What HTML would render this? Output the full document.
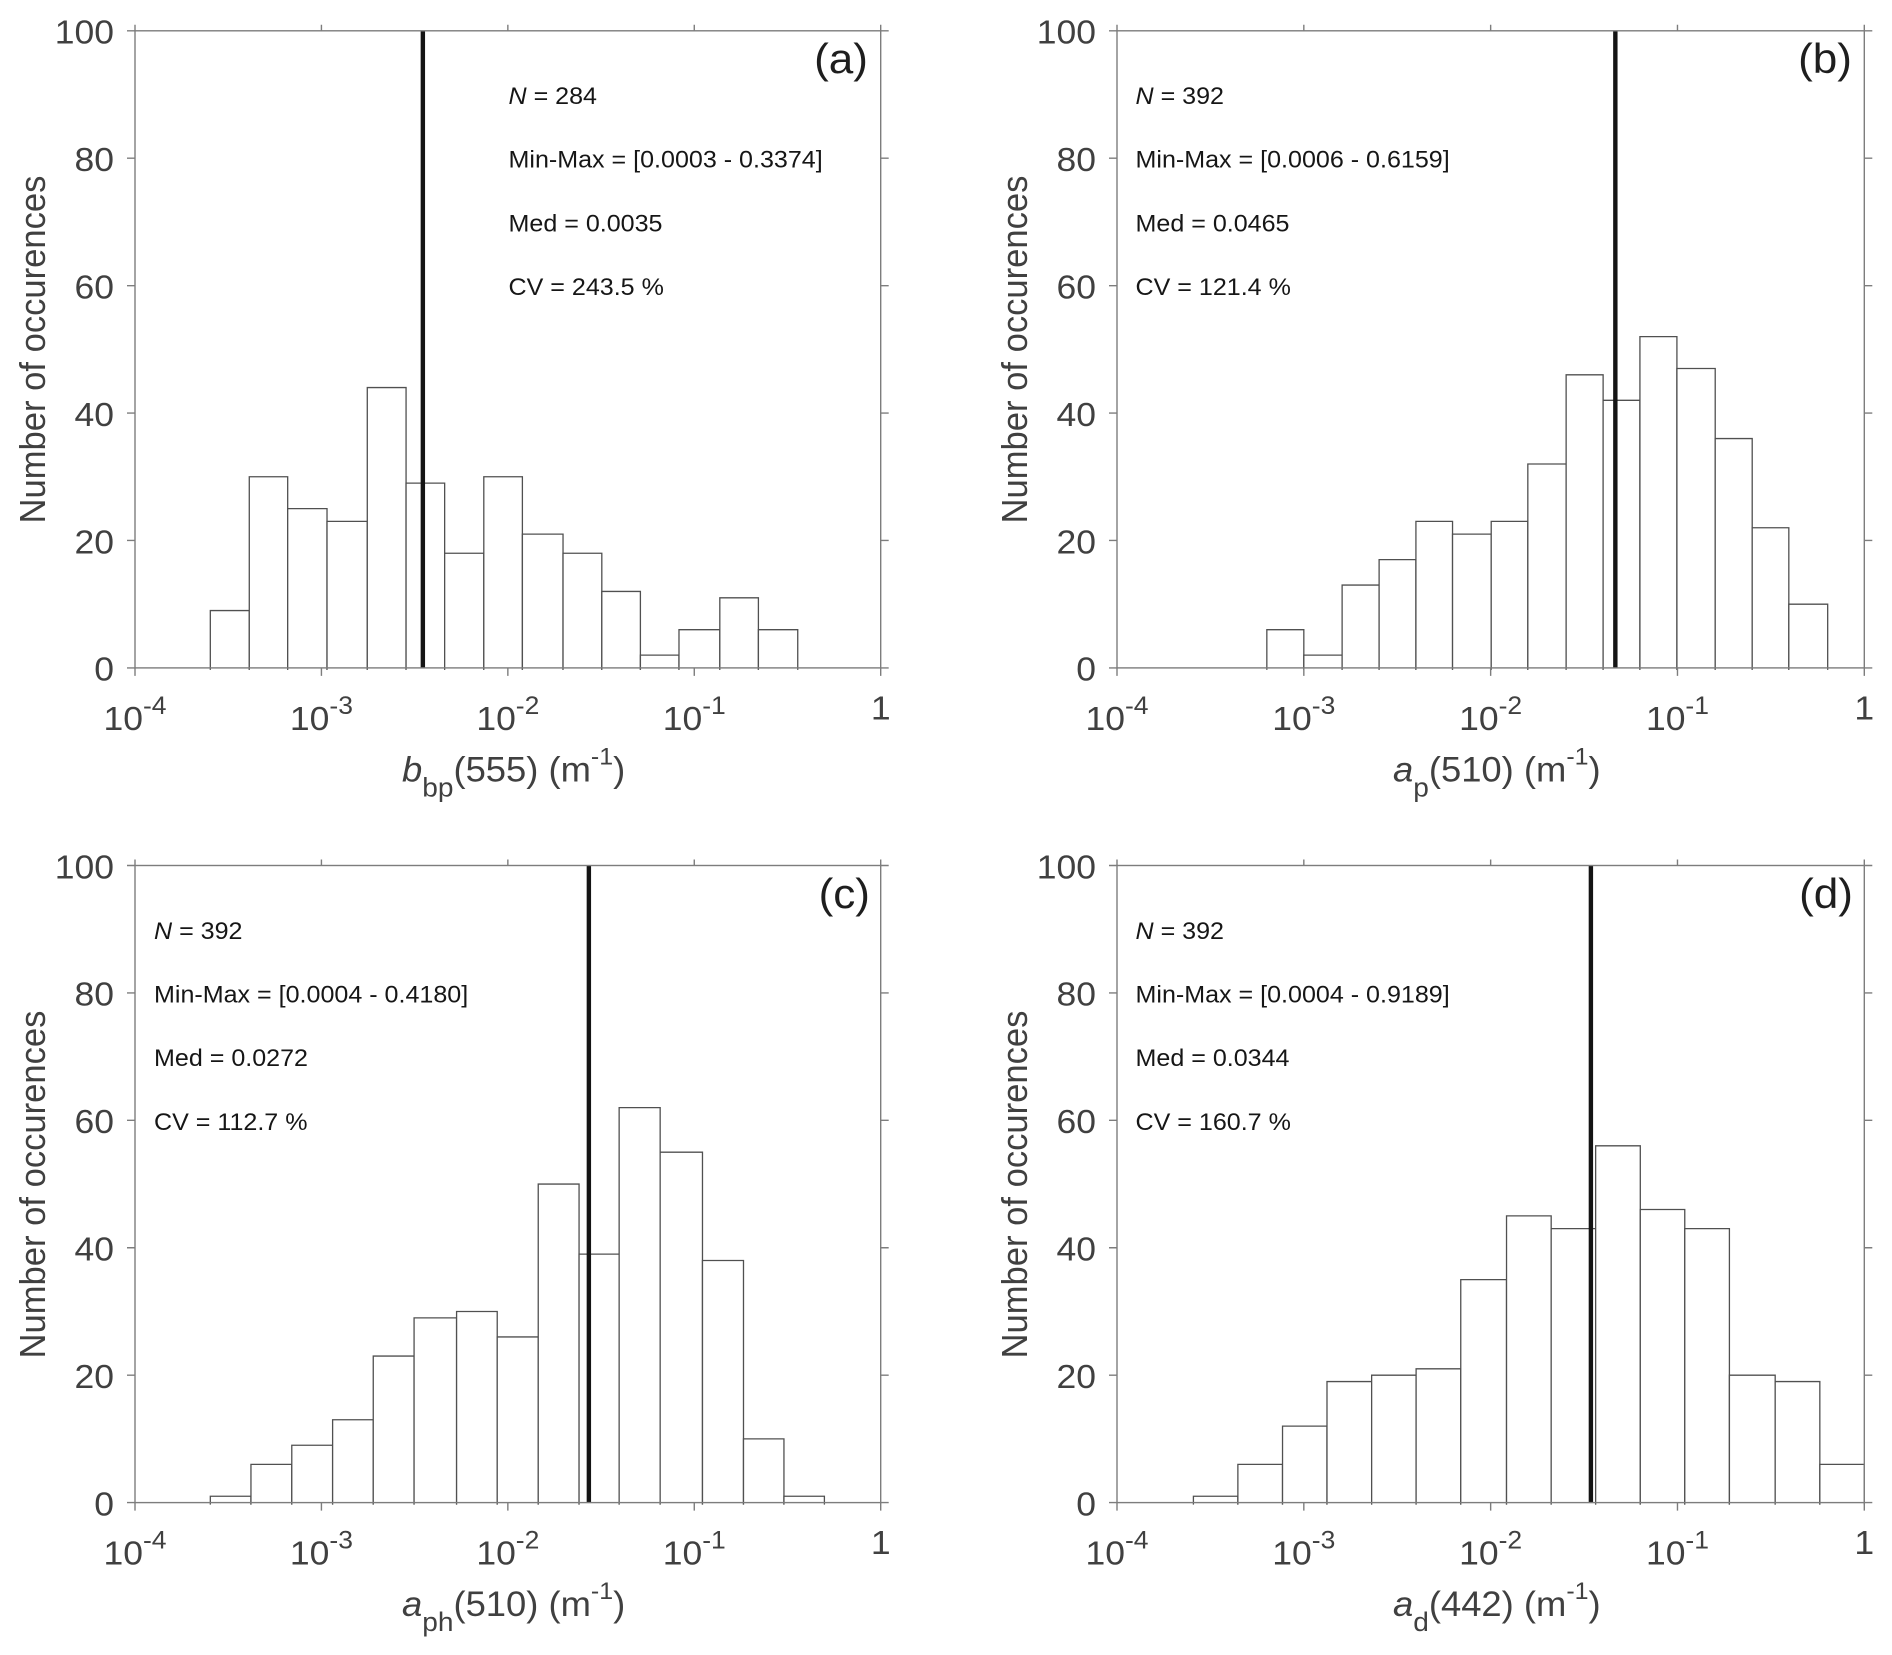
<!DOCTYPE html>
<html lang="en">
<head>
<meta charset="utf-8">
<title>Histograms of optical properties</title>
<style>
html,body{margin:0;padding:0;background:#fff;width:1892px;height:1655px;overflow:hidden}
svg{display:block;font-family:"Liberation Sans",Arial,sans-serif}
.axis-title{font-size:35px;fill:#404040}
.note{font-size:24px;fill:#161616}
.panel-tag{font-size:42px;fill:#1e1e1e}
</style>
</head>
<body>
<svg id="figure" xmlns="http://www.w3.org/2000/svg" width="1892" height="1655" viewBox="0 0 1892 1655">
  <rect width="1892" height="1655" fill="#fff"/>
  <g id="plots"></g>

  <!-- Panel a text -->
  <text class="axis-title" transform="translate(45 349.5) scale(1.04 1) rotate(-90)" text-anchor="middle" style="font-size:34.6px">Number of occurences</text>
  <text class="axis-title" transform="translate(402 781.5) scale(1.04 1)"><tspan font-style="italic">b</tspan><tspan font-size="27" dy="15">bp</tspan><tspan dy="-15">(555) (m</tspan><tspan font-size="24" dy="-17">-1</tspan><tspan dy="17">)</tspan></text>
  <text class="panel-tag" transform="translate(868 73) scale(1.05 1)" text-anchor="end">(a)</text>
  <g>
    <text class="note" transform="translate(508.5 104) scale(1.045 1)"><tspan font-style="italic">N</tspan> = 284</text>
    <text class="note" transform="translate(508.5 167.5) scale(1.045 1)">Min-Max = [0.0003 - 0.3374]</text>
    <text class="note" transform="translate(508.5 231.3) scale(1.045 1)">Med = 0.0035</text>
    <text class="note" transform="translate(508.5 295.2) scale(1.045 1)">CV = 243.5 %</text>
  </g>

  <!-- Panel b text -->
  <text class="axis-title" transform="translate(1027 349.5) scale(1.04 1) rotate(-90)" text-anchor="middle" style="font-size:34.6px">Number of occurences</text>
  <text class="axis-title" transform="translate(1393 781.5) scale(1.04 1)"><tspan font-style="italic">a</tspan><tspan font-size="27" dy="15">p</tspan><tspan dy="-15">(510) (m</tspan><tspan font-size="24" dy="-17">-1</tspan><tspan dy="17">)</tspan></text>
  <text class="panel-tag" transform="translate(1852 73) scale(1.05 1)" text-anchor="end">(b)</text>
  <g>
    <text class="note" transform="translate(1135.5 104) scale(1.045 1)"><tspan font-style="italic">N</tspan> = 392</text>
    <text class="note" transform="translate(1135.5 167.5) scale(1.045 1)">Min-Max = [0.0006 - 0.6159]</text>
    <text class="note" transform="translate(1135.5 231.3) scale(1.045 1)">Med = 0.0465</text>
    <text class="note" transform="translate(1135.5 295.2) scale(1.045 1)">CV = 121.4 %</text>
  </g>

  <!-- Panel c text -->
  <text class="axis-title" transform="translate(45 1184.5) scale(1.04 1) rotate(-90)" text-anchor="middle" style="font-size:34.6px">Number of occurences</text>
  <text class="axis-title" transform="translate(402 1616) scale(1.04 1)"><tspan font-style="italic">a</tspan><tspan font-size="27" dy="15">ph</tspan><tspan dy="-15">(510) (m</tspan><tspan font-size="24" dy="-17">-1</tspan><tspan dy="17">)</tspan></text>
  <text class="panel-tag" transform="translate(870 908) scale(1.05 1)" text-anchor="end">(c)</text>
  <g>
    <text class="note" transform="translate(154 939) scale(1.045 1)"><tspan font-style="italic">N</tspan> = 392</text>
    <text class="note" transform="translate(154 1002.5) scale(1.045 1)">Min-Max = [0.0004 - 0.4180]</text>
    <text class="note" transform="translate(154 1066.2) scale(1.045 1)">Med = 0.0272</text>
    <text class="note" transform="translate(154 1130) scale(1.045 1)">CV = 112.7 %</text>
  </g>

  <!-- Panel d text -->
  <text class="axis-title" transform="translate(1027 1184.5) scale(1.04 1) rotate(-90)" text-anchor="middle" style="font-size:34.6px">Number of occurences</text>
  <text class="axis-title" transform="translate(1393 1616) scale(1.04 1)"><tspan font-style="italic">a</tspan><tspan font-size="27" dy="15">d</tspan><tspan dy="-15">(442) (m</tspan><tspan font-size="24" dy="-17">-1</tspan><tspan dy="17">)</tspan></text>
  <text class="panel-tag" transform="translate(1853 908) scale(1.05 1)" text-anchor="end">(d)</text>
  <g>
    <text class="note" transform="translate(1135.5 939) scale(1.045 1)"><tspan font-style="italic">N</tspan> = 392</text>
    <text class="note" transform="translate(1135.5 1002.5) scale(1.045 1)">Min-Max = [0.0004 - 0.9189]</text>
    <text class="note" transform="translate(1135.5 1066.2) scale(1.045 1)">Med = 0.0344</text>
    <text class="note" transform="translate(1135.5 1130) scale(1.045 1)">CV = 160.7 %</text>
  </g>
</svg>

<script>
// Bin counts
const countsA = [9, 30, 25, 23, 44, 29, 18, 30, 21, 18, 12, 2, 6, 11, 6];
const countsB = [6, 2, 13, 17, 23, 21, 23, 32, 46, 42, 52, 47, 36, 22, 10];
const countsC = [1, 6, 9, 13, 23, 29, 30, 26, 50, 39, 62, 55, 38, 10, 1];
const countsD = [1, 6, 12, 19, 20, 21, 35, 45, 43, 56, 46, 43, 20, 19, 6];

// Bin edges, as log10 of the measured quantity
const edgesA = [-3.596, -3.387, -3.181, -2.970, -2.754, -2.546, -2.339, -2.129, -1.922, -1.704, -1.496, -1.289, -1.082, -0.863, -0.656, -0.445];
const edgesB = [-3.198, -3.000, -2.795, -2.597, -2.400, -2.204, -1.997, -1.801, -1.596, -1.398, -1.201, -1.003, -0.798, -0.600, -0.404, -0.196];
const edgesC = [-3.596, -3.378, -3.159, -2.940, -2.722, -2.503, -2.275, -2.057, -1.837, -1.618, -1.403, -1.183, -0.956, -0.736, -0.519, -0.302];
const edgesD = [-3.591, -3.353, -3.114, -2.876, -2.637, -2.399, -2.160, -1.915, -1.676, -1.438, -1.199, -0.961, -0.722, -0.477, -0.238, 0];

// Median values (vertical marker)
const medianA = 0.0035;
const medianB = 0.0465;
const medianC = 0.0272;
const medianD = 0.0344;

// Tick labels
const xTickExponents = [-4, -3, -2, -1, 0];
const yTickValues = [0, 20, 40, 60, 80, 100];

const panels = [
  { id: 'a', left: 135, right: 880.7, top: 30.8, bottom: 667.9, labelRight: 114, counts: countsA, edges: edgesA, median: medianA },
  { id: 'b', left: 1117, right: 1864.3, top: 30.8, bottom: 667.9, labelRight: 1096, counts: countsB, edges: edgesB, median: medianB },
  { id: 'c', left: 135, right: 880.7, top: 865.5, bottom: 1502.6, labelRight: 114, counts: countsC, edges: edgesC, median: medianC },
  { id: 'd', left: 1117, right: 1864.3, top: 865.5, bottom: 1502.6, labelRight: 1096, counts: countsD, edges: edgesD, median: medianD }
];

const NS = 'http://www.w3.org/2000/svg';
const AXIS_COLOR = '#7d7d7d';
const TICK_TEXT = '#404040';
const root = document.getElementById('plots');

function make(tag, attrs, parent) {
  const node = document.createElementNS(NS, tag);
  for (const key in attrs) node.setAttribute(key, attrs[key]);
  parent.appendChild(node);
  return node;
}

function drawPanel(p) {
  const xScale = function (logValue) { return p.left + (logValue + 4) / 4 * (p.right - p.left); };
  const yScale = function (count) { return p.bottom - count / 100 * (p.bottom - p.top); };

  const group = make('g', {}, root);
  
  

  // Histogram bars
  p.counts.forEach(function (count, i) {
    const x0 = xScale(p.edges[i]);
    const x1 = xScale(p.edges[i + 1]);
    const bar = make('path', {
      d: 'M' + x0 + ' ' + (p.bottom + 2) + 'V' + yScale(count) + 'H' + x1 + 'V' + (p.bottom + 2),
      fill: '#fff', stroke: '#505050', 'stroke-width': 1.3
    }, group);
    
    
  });

  // Median marker
  const medianX = xScale(Math.log10(p.median));
  const medianLine = make('line', {
    x1: medianX, x2: medianX, y1: p.top, y2: p.bottom, stroke: '#141414', 'stroke-width': 4.4
  }, group);
  
  

  // Axes box
  const box = make('rect', {
    x: p.left, y: p.top, width: p.right - p.left, height: p.bottom - p.top,
    fill: 'none', stroke: AXIS_COLOR, 'stroke-width': 1.4
  }, group);
  
  

  // Y ticks and labels
  yTickValues.forEach(function (value) {
    const y = yScale(value);
    const tick = make('path', {
      d: 'M' + (p.left - 8) + ' ' + y + 'H' + p.left + 'M' + p.right + ' ' + y + 'H' + (p.right + 8),
      stroke: AXIS_COLOR, 'stroke-width': 1.4, fill: 'none'
    }, group);
    
    

    const label = make('text', {
      transform: 'translate(' + p.labelRight + ' ' + (y + 12.8) + ') scale(1.06 1)',
      'text-anchor': 'end', 'font-size': 33.5, fill: TICK_TEXT
    }, group);
    label.textContent = String(value);
    
    
  });

  // X ticks and labels
  xTickExponents.forEach(function (exponent) {
    const x = xScale(exponent);
    const tick = make('path', {
      d: 'M' + x + ' ' + (p.top - 6) + 'V' + p.top + 'M' + x + ' ' + p.bottom + 'V' + (p.bottom + 8),
      stroke: AXIS_COLOR, 'stroke-width': 1.4, fill: 'none'
    }, group);
    
    

    const isUnit = exponent === 0;
    const label = make('text', {
      transform: 'translate(' + x + ' ' + (p.bottom + (isUnit ? 51.5 : 62)) + ') scale(1.06 1)',
      'text-anchor': 'middle', 'font-size': 33.5, fill: TICK_TEXT
    }, group);
    
    
    if (isUnit) {
      label.textContent = '1';
    } else {
      const base = make('tspan', {}, label);
      base.textContent = '10';
      const power = make('tspan', { 'font-size': 25, dy: -16 }, label);
      power.textContent = String(exponent);
    }
  });
}

panels.forEach(drawPanel);
</script>
</body>
</html>
